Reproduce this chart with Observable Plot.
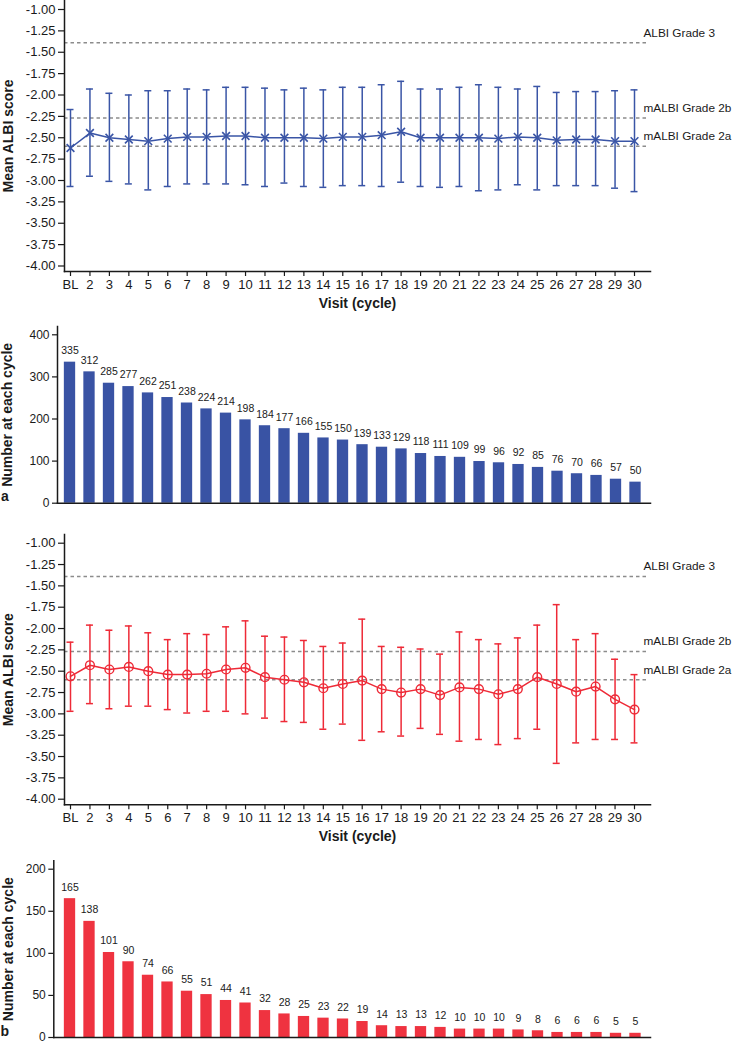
<!DOCTYPE html>
<html>
<head>
<meta charset="utf-8">
<script src="https://cdn.jsdelivr.net/npm/d3@7"></script>
<script src="https://cdn.jsdelivr.net/npm/@observablehq/plot@0.6"></script>
<style>
  html, body { margin: 0; padding: 0; background: #fff; }
  #wrap { position: relative; width: 735px; height: 1047px; background: #fff; overflow: hidden; }
  #wrap svg { position: absolute; left: 0; }
</style>
</head>
<body>
<div id="wrap"></div>
<script>
// ---------- Data ----------
const visits = ["BL","2","3","4","5","6","7","8","9","10","11","12","13","14","15",
                "16","17","18","19","20","21","22","23","24","25","26","27","28","29","30"];

// Panel a (blue)
const meanA = [-2.62,-2.445,-2.50,-2.52,-2.54,-2.51,-2.49,-2.49,-2.48,-2.48,-2.50,-2.50,-2.50,-2.51,-2.49,
               -2.49,-2.47,-2.43,-2.50,-2.50,-2.50,-2.50,-2.51,-2.49,-2.50,-2.53,-2.52,-2.52,-2.54,-2.54];
const hiA   = [-2.17,-1.93,-1.98,-2.00,-1.95,-1.95,-1.93,-1.94,-1.91,-1.91,-1.92,-1.94,-1.92,-1.94,-1.91,
               -1.91,-1.88,-1.84,-1.93,-1.93,-1.91,-1.88,-1.91,-1.93,-1.90,-1.97,-1.96,-1.96,-1.95,-1.94];
const loA   = [-3.07,-2.95,-3.01,-3.04,-3.11,-3.07,-3.04,-3.04,-3.04,-3.05,-3.07,-3.03,-3.07,-3.08,-3.06,
               -3.06,-3.07,-3.02,-3.07,-3.08,-3.07,-3.12,-3.11,-3.05,-3.11,-3.06,-3.06,-3.06,-3.09,-3.13];
const countA = [335,312,285,277,262,251,238,224,214,198,184,177,166,155,150,
                139,133,129,118,111,109,99,96,92,85,76,70,66,57,50];

// Panel b (red)
const meanB = [-2.56,-2.43,-2.48,-2.45,-2.50,-2.54,-2.54,-2.53,-2.48,-2.46,-2.57,-2.60,-2.63,-2.70,-2.65,
               -2.61,-2.71,-2.75,-2.71,-2.78,-2.69,-2.71,-2.77,-2.71,-2.57,-2.65,-2.74,-2.68,-2.83,-2.95];
const hiB   = [-2.16,-1.96,-2.02,-1.97,-2.05,-2.13,-2.06,-2.07,-1.98,-1.91,-2.09,-2.10,-2.14,-2.21,-2.17,
               -1.89,-2.21,-2.22,-2.24,-2.30,-2.04,-2.13,-2.18,-2.11,-1.96,-1.72,-2.13,-2.06,-2.36,-2.54];
const loB   = [-2.97,-2.88,-2.94,-2.91,-2.91,-2.95,-2.99,-2.97,-2.97,-3.00,-3.05,-3.09,-3.10,-3.18,-3.12,
               -3.31,-3.21,-3.26,-3.17,-3.24,-3.32,-3.30,-3.36,-3.29,-3.18,-3.58,-3.34,-3.30,-3.30,-3.34];
const countB = [165,138,101,90,74,66,55,51,44,41,32,28,25,23,22,
                19,14,13,13,12,10,10,10,9,8,6,6,6,5,5];

// Reference thresholds
const gradeLabels = ["ALBI Grade 3","mALBI Grade 2b","mALBI Grade 2a"];
const gradeValues = [-1.39,-2.27,-2.60];

// Tick values
const lineTicks = [-1.00,-1.25,-1.50,-1.75,-2.00,-2.25,-2.50,-2.75,-3.00,-3.25,-3.50,-3.75,-4.00];
const barTicksA = [0,100,200,300,400];
const barTicksB = [0,50,100,150,200];

// Text
const yLabelLine = "Mean ALBI score";
const yLabelBar = "Number at each cycle";
const xLabel = "Visit (cycle)";

// ---------- Styling ----------
const BLUE = "#3a55a6";
const BLUE_BAR = "#3953a4";
const RED = "#ee2a37";
const RED_BAR = "#ef3340";
const GREY = "#8c8c8c";
const INK = "#1a1a1a";
const FONT = "'Liberation Sans', Arial, Helvetica, sans-serif";

function bandRange(c0, cN, n, p) {
  const step = (cN - c0) / (n - 1);
  const r0 = c0 - step * (1 + p) / 2;
  return [r0, r0 + step * (n + p)];
}

const P_LINE = 0.64, P_BAR = 0.42;
const wrap = document.getElementById("wrap");

function lineChart({mean, hi, lo, color, symbol, top, yTop, yBottom, marginTop, marginBottom, height}) {
  const data = visits.map((v, i) => ({visit: v, mean: mean[i], hi: hi[i], lo: lo[i]}));
  const dotOpts = symbol === "times"
    ? {symbol: "times", r: 3.6, stroke: color, strokeWidth: 1.6}
    : {symbol: "circle", r: 4.4, stroke: color, fill: "none", strokeWidth: 1.4};
  const svg = Plot.plot({
    width: 735, height, marginLeft: 64, marginRight: 85, marginTop, marginBottom,
    style: {fontFamily: FONT, fontSize: "13px", color: INK, background: "transparent", overflow: "visible"},
    x: {type: "band", domain: visits, range: bandRange(70, 634, 30, P_LINE), padding: P_LINE, round: false},
    y: {domain: [-4, -1], range: [yBottom, yTop]},
    marks: [
      Plot.ruleY(gradeValues, {stroke: GREY, strokeDasharray: "3.5,3", strokeWidth: 1.5, insetRight: 2}),
      Plot.text(gradeLabels, {y: (d, i) => gradeValues[i], frameAnchor: "right", dx: -7, dy: -10,
        textAnchor: "start", fontSize: 11.8, fill: INK}),
      Plot.ruleX(data, {x: "visit", y1: "lo", y2: "hi", stroke: color, strokeWidth: 1.5}),
      Plot.tickY(data, {x: "visit", y: "lo", stroke: color, strokeWidth: 1.5}),
      Plot.tickY(data, {x: "visit", y: "hi", stroke: color, strokeWidth: 1.5}),
      Plot.line(data, {x: "visit", y: "mean", stroke: color, strokeWidth: 1.5}),
      Plot.dot(data, {x: "visit", y: "mean", ...dotOpts}),
      Plot.axisY(lineTicks, {tickFormat: d => d.toFixed(2), tickSize: 6, tickPadding: 3, label: null, stroke: INK, strokeWidth: 1.2}),
      Plot.axisX({tickSize: 5, tickPadding: 3, label: null, stroke: INK, strokeWidth: 1.2}),
      Plot.frame({anchor: "left", stroke: INK, strokeWidth: 1.5}),
      Plot.frame({anchor: "bottom", stroke: INK, strokeWidth: 1.5}),
      Plot.text([yLabelLine], {frameAnchor: "left", rotate: -90, textAnchor: "middle", dx: -55.7, fontWeight: "bold", fontSize: 14, fill: INK}),
      Plot.text([xLabel], {frameAnchor: "bottom", textAnchor: "middle", dy: 36, fontWeight: "bold", fontSize: 14, fill: INK})
    ]
  });
  svg.style.top = top + "px";
  wrap.appendChild(svg);
}

function barChart({counts, fill, top, height, marginLeft, marginTop, marginBottom, ticks, yTop, yBottom, tickVal, letter, labelDx, letterDx}) {
  const data = visits.map((v, i) => ({visit: v, n: counts[i]}));
  const svg = Plot.plot({
    width: 735, height, marginLeft, marginRight: 85, marginTop, marginBottom,
    style: {fontFamily: FONT, fontSize: "12px", color: INK, background: "transparent", overflow: "visible"},
    x: {type: "band", domain: visits, range: bandRange(69.5, 635, 30, P_BAR), padding: P_BAR, round: false, axis: null},
    y: {domain: [0, tickVal], range: [yBottom, yTop], axis: null},
    marks: [
      Plot.barY(data, {x: "visit", y: "n", fill}),
      Plot.text(data, {x: "visit", y: "n", text: d => String(d.n), dy: -11.5, fontSize: 10.5, fill: INK}),
      Plot.axisY(ticks, {tickSize: 5, tickPadding: 3, label: null, fontSize: 12, stroke: INK, strokeWidth: 1.2}),
      Plot.frame({anchor: "left", stroke: INK, strokeWidth: 1.5}),
      Plot.frame({anchor: "bottom", stroke: INK, strokeWidth: 1.5}),
      Plot.text([yLabelBar], {frameAnchor: "left", rotate: -90, textAnchor: "middle", dx: labelDx, fontWeight: "bold", fontSize: 14, fill: INK}),
      Plot.text([letter], {frameAnchor: "bottom-left", textAnchor: "middle", dx: letterDx, dy: -2, fontWeight: "bold", fontSize: 14, fill: INK})
    ]
  });
  svg.style.top = top + "px";
  wrap.appendChild(svg);
}

// Panel a: line
lineChart({mean: meanA, hi: hiA, lo: loA, color: BLUE, symbol: "times",
  top: 0, height: 318, marginTop: 0, marginBottom: 47, yTop: 9, yBottom: 265.5});
// Panel a: bars
barChart({counts: countA, fill: BLUE_BAR, top: 318, height: 190, marginLeft: 57, marginTop: 8, marginBottom: 5.3,
  ticks: barTicksA, tickVal: 400, yTop: 16.3, yBottom: 184.7, letter: "a", labelDx: -49.5, letterDx: -52.5});
// Panel b: line
lineChart({mean: meanB, hi: hiB, lo: loB, color: RED, symbol: "circle",
  top: 508, height: 345, marginTop: 26, marginBottom: 48.7, yTop: 34.7, yBottom: 290.7});
// Panel b: bars
barChart({counts: countB, fill: RED_BAR, top: 853, height: 194, marginLeft: 53.3, marginTop: 7.3, marginBottom: 10,
  ticks: barTicksB, tickVal: 200, yTop: 15.7, yBottom: 184, letter: "b", labelDx: -45.3, letterDx: -49});
</script>
</body>
</html>
